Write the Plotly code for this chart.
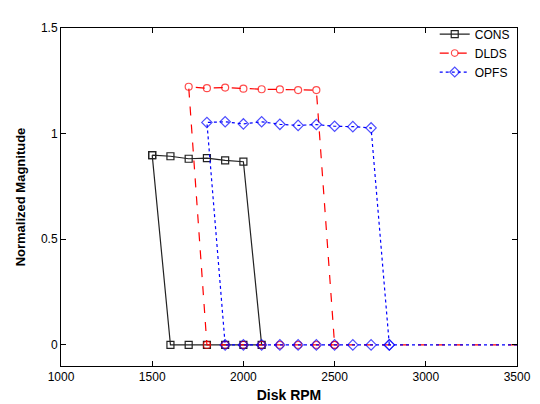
import plotly.graph_objects as go

# CONS: closed loop (top values then back along zero)
cons_x = [1500, 1600, 1700, 1800, 1900, 2000, 2100, 2000, 1900, 1800, 1700, 1600, 1500]
cons_y = [0.898, 0.893, 0.881, 0.884, 0.873, 0.867, 0, 0, 0, 0, 0, 0, 0.898]

# DLDS: baseline from 3500, zeros, then top values, then drop
dlds_x = [3500, 2500, 2400, 2300, 2200, 2100, 2000, 1900, 1800,
          1700, 1800, 1900, 2000, 2100, 2200, 2300, 2400, 2500]
dlds_y = [0, 0, 0, 0, 0, 0, 0, 0, 0,
          1.222, 1.215, 1.218, 1.213, 1.210, 1.209, 1.206, 1.206, 0]

# OPFS
opfs_x = [3500, 2800, 2700, 2600, 2500, 2400, 2300, 2200, 2100, 2000, 1900,
          1800, 1900, 2000, 2100, 2200, 2300, 2400, 2500, 2600, 2700, 2800]
opfs_y = [0, 0, 0, 0, 0, 0, 0, 0, 0, 0, 0,
          1.053, 1.056, 1.046, 1.056, 1.044, 1.039, 1.043, 1.035, 1.033, 1.027, 0]

x_ticks = [1000, 1500, 2000, 2500, 3000, 3500]
y_ticks = [0, 0.5, 1, 1.5]

fig = go.Figure()
fig.add_trace(go.Scatter(
    x=cons_x, y=cons_y, mode="lines+markers", name="CONS",
    line=dict(color="#222222", width=1.2, dash="solid"),
    marker=dict(symbol="square-open", size=7, color="#222222", line=dict(width=1.2)),
))
fig.add_trace(go.Scatter(
    x=dlds_x, y=dlds_y, mode="lines+markers", name="DLDS",
    line=dict(color="#ff0000", width=1.2, dash="dash"),
    marker=dict(symbol="circle-open", size=[0] + [7] * (len(dlds_x) - 1),
                color="#ff0000", line=dict(width=1.2)),
))
fig.add_trace(go.Scatter(
    x=opfs_x, y=opfs_y, mode="lines+markers", name="OPFS",
    line=dict(color="#0000ff", width=1.2, dash="dot"),
    marker=dict(symbol="diamond-open", size=[0] + [8] * (len(opfs_x) - 1),
                color="#0000ff", line=dict(width=1.2)),
))

axis_common = dict(
    showgrid=False, zeroline=False, showline=True, linecolor="black", linewidth=1,
    mirror="ticks", ticks="inside", ticklen=5, tickcolor="black",
    tickfont=dict(family="Liberation Sans, Arial", size=12, color="black"),
)
fig.update_xaxes(range=[1000, 3500], tickvals=x_ticks,
                 title=dict(text="<b>Disk RPM</b>", font=dict(family="Liberation Sans, Arial", size=14, color="black"), standoff=6),
                 **axis_common)
fig.update_yaxes(range=[-0.1, 1.5], tickvals=y_ticks, ticktext=["0", "0.5", "1", "1.5"],
                 title=dict(text="<b>Normalized Magnitude</b>", font=dict(family="Liberation Sans, Arial", size=13, color="black"), standoff=12),
                 **axis_common)

fig.update_layout(
    width=540, height=404,
    margin=dict(l=52, r=31, t=14, b=39),
    paper_bgcolor="white", plot_bgcolor="white",
    legend=dict(x=0.995, y=1.025, xanchor="right", yanchor="top",
                bgcolor="rgba(0,0,0,0)", borderwidth=0,
                font=dict(family="Liberation Sans, Arial", size=12, color="black")),
)

fig.write_html("out.html")
